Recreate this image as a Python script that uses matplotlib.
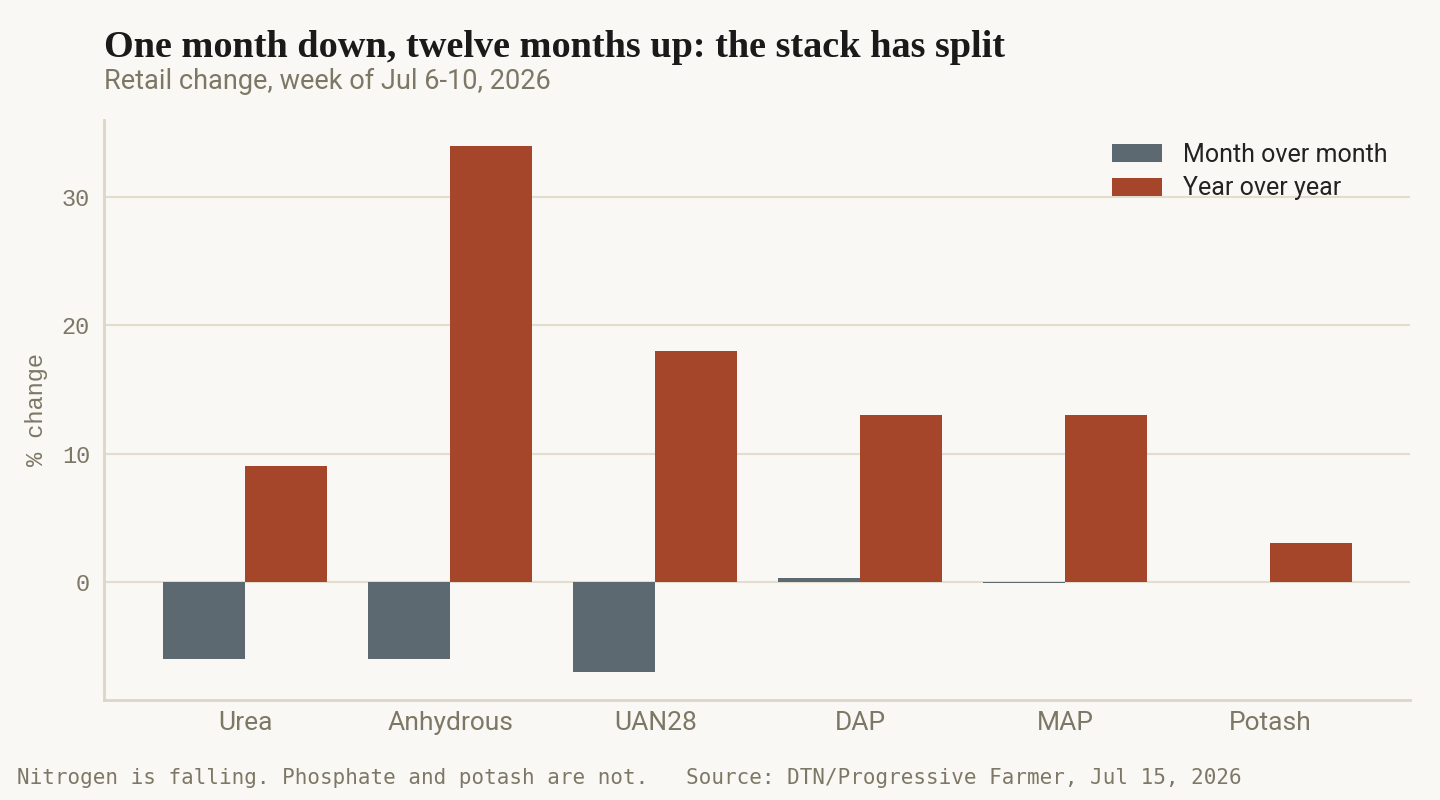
import matplotlib.pyplot as plt
import numpy as np

categories = ['Urea', 'Anhydrous', 'UAN28', 'DAP', 'MAP', 'Potash']
month_over_month = [-6.0, -6.0, -7.0, 0.3, -0.1, 0.0]
year_over_year = [9.0, 34.0, 18.0, 13.0, 13.0, 3.0]

bg = '#faf8f4'
c_mom = '#5c6970'
c_yoy = '#a5462a'
muted = '#7d7766'
rule = '#e3ddd0'

fig = plt.figure(figsize=(14.4, 8), dpi=100, facecolor=bg)
ax = fig.add_axes([0.0722, 0.125, 0.9068, 0.725], facecolor=bg)

x = np.arange(len(categories))
w = 0.4
ax.bar(x - w/2, month_over_month, w, color=c_mom, label='Month over month', zorder=3)
ax.bar(x + w/2, year_over_year, w, color=c_yoy, label='Year over year', zorder=3)

ax.set_xlim(-0.69, 5.68)
ax.set_ylim(-9.2, 36)
ax.set_yticks([0, 10, 20, 30])
ax.grid(axis='y', color=rule, linewidth=1.5, zorder=0)
ax.set_axisbelow(True)

for s in ['top', 'right']:
    ax.spines[s].set_visible(False)
for s in ['left', 'bottom']:
    ax.spines[s].set_color('#ddd6c6')
    ax.spines[s].set_linewidth(2)

ax.set_xticks(x)
ax.set_xticklabels(categories, fontfamily='Roboto', fontsize=19, color=muted)
for lbl in ax.get_yticklabels():
    lbl.set_fontfamily('Liberation Mono')
    lbl.set_fontsize(17)
    lbl.set_color(muted)
ax.tick_params(length=0, pad=10)
ax.tick_params(axis='x', pad=8)
ax.set_ylabel('% change', fontfamily='Liberation Mono', fontsize=17, color=muted, labelpad=10)

leg = ax.legend(loc='upper right', frameon=False, prop={'family': 'Roboto', 'size': 18},
                handlelength=2.0, handleheight=0.7, handletextpad=0.85, labelspacing=0.4,
                bbox_to_anchor=(1.0, 1.0))
for t in leg.get_texts():
    t.set_color('#222222')

fig.text(0.0722, 0.929, 'One month down, twelve months up: the stack has split',
         fontfamily='Liberation Serif', fontweight='bold', fontsize=27.5, color='#1a1a1a')
fig.text(0.0722, 0.889, 'Retail change, week of Jul 6-10, 2026',
         fontfamily='Roboto', fontsize=19.5, color=muted)
fig.text(0.012, 0.02, 'Nitrogen is falling. Phosphate and potash are not.   Source: DTN/Progressive Farmer, Jul 15, 2026',
         fontfamily='DejaVu Sans Mono', fontsize=15, color=muted)

fig.savefig('out.png', dpi=100, facecolor=bg)
